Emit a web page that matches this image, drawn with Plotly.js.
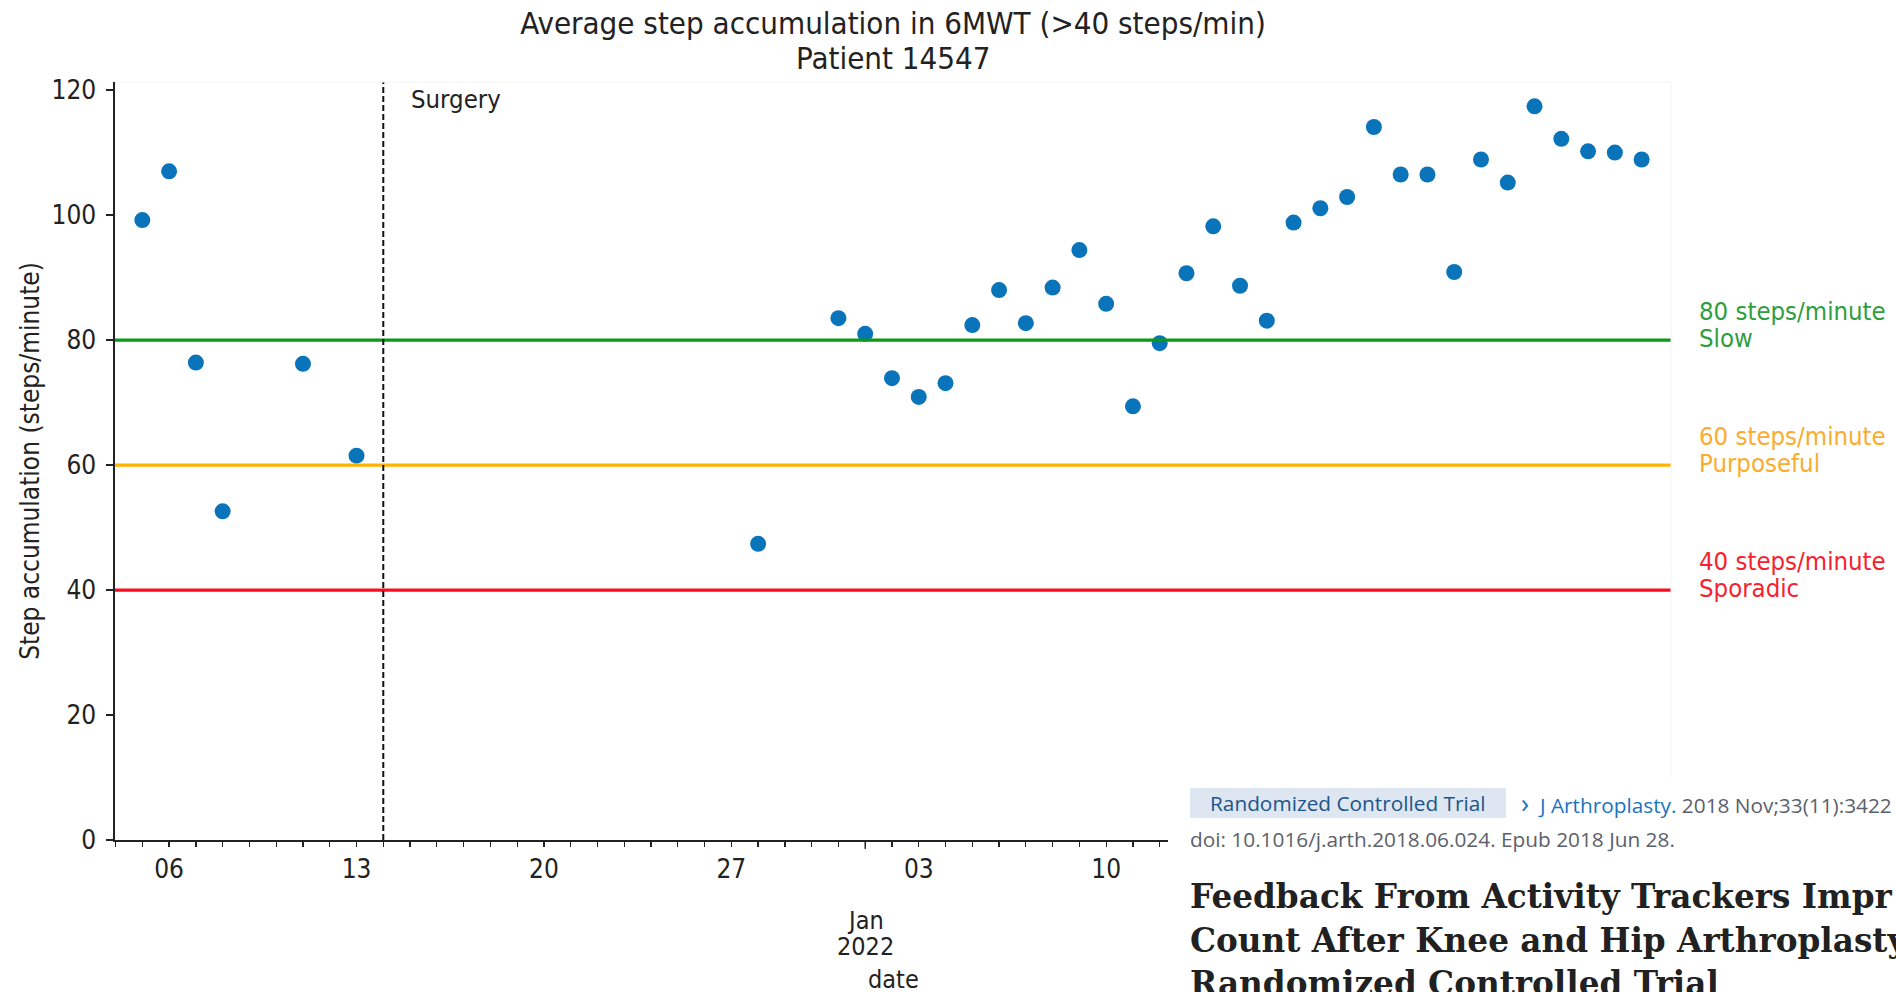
<!DOCTYPE html>
<html>
<head>
<meta charset="utf-8">
<script src="https://cdn.plot.ly/plotly-3.0.1.min.js"></script>
<style>html,body{margin:0;padding:0;background:#fff;}#chart{width:1896px;height:992px;}</style>
</head>
<body>
<div id="chart"></div>
<script>
// ---- data ----
const dates = ['2021-12-05','2021-12-06','2021-12-07','2021-12-08','2021-12-11','2021-12-13',
  '2021-12-28','2021-12-31','2022-01-01','2022-01-02','2022-01-03','2022-01-04','2022-01-05',
  '2022-01-06','2022-01-07','2022-01-08','2022-01-09','2022-01-10','2022-01-11','2022-01-12',
  '2022-01-13','2022-01-14','2022-01-15','2022-01-16','2022-01-17','2022-01-18','2022-01-19',
  '2022-01-20','2022-01-21','2022-01-22','2022-01-23','2022-01-24','2022-01-25','2022-01-26',
  '2022-01-27','2022-01-28','2022-01-29','2022-01-30'];
const steps = [99.2,107.0,76.4,52.6,76.2,61.5,
  47.4,83.5,81.0,73.9,70.9,73.1,82.4,
  88.0,82.7,88.4,94.4,85.8,69.4,79.5,
  90.7,98.2,88.7,83.1,98.8,101.1,102.9,
  114.1,106.5,106.5,90.9,108.9,105.2,117.4,
  112.2,110.2,110.0,108.9];
const surgeryDate = '2021-12-14';
const thresholds = [80, 60, 40];
const thresholdRates = ['80 steps/minute', '60 steps/minute', '40 steps/minute'];
const thresholdNames = ['Slow', 'Purposeful', 'Sporadic'];
const xTickVals = ['2021-12-06','2021-12-13','2021-12-20','2021-12-27','2022-01-03','2022-01-10'];
const xTickText = ['06','13','20','27','03','10'];
const yTickVals = [0,20,40,60,80,100,120];
const monthTickDate = '2022-01-01';
const monthTickLabel = ['Jan', '2022'];
const titleLines = ['Average step accumulation in 6MWT (&gt;40 steps/min)', 'Patient 14547'];

// ---- styles ----
const FONT = 'DejaVu Sans Condensed, DejaVu Sans, sans-serif';
const INK = '#222222';
const lineColors = ['#0a9a16', '#ffb300', '#fa0d22'];
const textColors = ['#2e9e3e', '#fbac2e', '#f5222f'];

const trace = {
  x: dates, y: steps, type: 'scatter', mode: 'markers',
  marker: {color: '#0a74ba', size: 16, line: {width: 0}},
  hoverinfo: 'x+y'
};

const px = v => (v - 115) / 1556;      // pixel x -> paper
const py = v => (840 - v) / 758;       // pixel y -> paper

const shapes = [];
thresholds.forEach((v, i) => {
  shapes.push({type: 'line', xref: 'paper', x0: 0, x1: 1, yref: 'y', y0: v, y1: v,
    line: {color: lineColors[i], width: 3.2}, layer: 'above'});
});
shapes.push({type: 'line', xref: 'x', x0: surgeryDate, x1: surgeryDate, yref: 'paper', y0: 0, y1: 1,
  line: {color: '#111', width: 2, dash: '6px,3px'}, layer: 'above'});
// faint top/right frame
shapes.push({type: 'line', xref: 'paper', x0: 0, x1: 1, yref: 'paper', y0: 1, y1: 1, line: {color: '#f2f2f2', width: 1}});
shapes.push({type: 'line', xref: 'paper', x0: 1, x1: 1, yref: 'paper', y0: 0, y1: 1, line: {color: '#f2f2f2', width: 1}});
// longer month tick
shapes.push({type: 'line', xref: 'x', x0: monthTickDate, x1: monthTickDate, yref: 'paper', y0: 0, y1: -0.012,
  line: {color: INK, width: 1.4}});
// pasted web overlay (white panel + badge)
shapes.push({type: 'rect', xref: 'paper', yref: 'paper',
  x0: px(1168), x1: px(1896), y0: py(992), y1: py(777),
  fillcolor: '#ffffff', line: {width: 0}, layer: 'above'});
shapes.push({type: 'rect', xref: 'paper', yref: 'paper',
  x0: px(1190), x1: px(1506), y0: py(818), y1: py(788),
  fillcolor: '#dde6f1', line: {width: 0}, layer: 'above'});

const annotations = [];
// second title line
annotations.push({xref: 'paper', x: 0.5, xanchor: 'center', yref: 'paper', y: py(58), yanchor: 'middle',
  text: titleLines[1], showarrow: false, font: {family: FONT, size: 31, color: INK}});
thresholds.forEach((v, i) => {
  annotations.push({xref: 'paper', x: px(1697), xanchor: 'left', yref: 'y', y: v + 4.6, yanchor: 'middle',
    text: thresholdRates[i], showarrow: false, align: 'left',
    font: {family: FONT, size: 25.5, color: textColors[i]}});
  annotations.push({xref: 'paper', x: px(1697), xanchor: 'left', yref: 'y', y: v + 0.3, yanchor: 'middle',
    text: thresholdNames[i], showarrow: false, align: 'left',
    font: {family: FONT, size: 25.5, color: textColors[i]}});
});
annotations.push({xref: 'x', x: surgeryDate, xshift: 26, xanchor: 'left', yref: 'paper', y: py(99), yanchor: 'middle',
  text: 'Surgery', showarrow: false, font: {family: FONT, size: 25.5, color: INK}});
annotations.push({xref: 'x', x: monthTickDate, xanchor: 'center', yref: 'paper', y: py(921), yanchor: 'middle',
  text: monthTickLabel[0], showarrow: false, font: {family: FONT, size: 25, color: INK}});
annotations.push({xref: 'x', x: monthTickDate, xanchor: 'center', yref: 'paper', y: py(946), yanchor: 'middle',
  text: monthTickLabel[1], showarrow: false, font: {family: FONT, size: 25, color: INK}});
annotations.push({xref: 'paper', x: 0.5, xanchor: 'center', yref: 'paper', y: py(979), yanchor: 'middle',
  text: 'date', showarrow: false, font: {family: FONT, size: 25, color: INK}});
// overlay texts
const WEB = 'Open Sans, Noto Sans, sans-serif';
annotations.push({xref: 'paper', x: px(1348), xanchor: 'center', yref: 'paper', y: py(803), yanchor: 'middle',
  text: 'Randomized Controlled Trial', showarrow: false, font: {family: WEB, size: 20.8, color: '#20558a'}});
annotations.push({xref: 'paper', x: px(1519), xanchor: 'left', yref: 'paper', y: py(802), yanchor: 'middle',
  text: '<span style="color:#1a73c0;font-size:27px">›</span><span style="color:#1a73c0">&nbsp; J Arthroplasty.</span> 2018 Nov;33(11):3422', showarrow: false,
  font: {family: WEB, size: 20.8, color: '#5b616b'}});
annotations.push({xref: 'paper', x: px(1188), xanchor: 'left', yref: 'paper', y: py(839), yanchor: 'middle',
  text: 'doi: 10.1016/j.arth.2018.06.024. Epub 2018 Jun 28.', showarrow: false,
  font: {family: WEB, size: 20.8, color: '#5b616b'}});
const SERIF = 'DejaVu Serif, Liberation Serif, serif';
[['Feedback From Activity Trackers Impr', 897], ['Count After Knee and Hip Arthroplasty', 940], ['Randomized Controlled Trial', 983]]
  .forEach(([t, y]) => annotations.push({xref: 'paper', x: px(1188), xanchor: 'left', yref: 'paper', y: py(y), yanchor: 'middle',
    text: '<b>' + t + '</b>', showarrow: false, font: {family: SERIF, size: 32.7, color: '#212121'}}));

const layout = {
  width: 1896, height: 992,
  margin: {l: 115, r: 225, t: 82, b: 152, pad: 0},
  paper_bgcolor: '#ffffff', plot_bgcolor: '#ffffff',
  showlegend: false,
  title: {text: titleLines[0],
    x: 0.5, xref: 'paper', xanchor: 'center', y: 1 - 23/992, yref: 'container', yanchor: 'middle',
    font: {family: FONT, size: 31, color: INK}},
  xaxis: {type: 'date', range: ['2021-12-03 23:30', '2022-01-31 02:20'],
    showgrid: false, zeroline: false, showline: true, linecolor: INK, linewidth: 1.6,
    ticks: 'outside', ticklen: 5, tickwidth: 1.3, tickcolor: INK,
    tickvals: xTickVals, ticktext: xTickText,
    tickfont: {family: FONT, size: 26, color: INK},
    minor: {dtick: 86400000, tick0: '2021-12-06', ticks: 'outside', ticklen: 5, tickwidth: 1.3, tickcolor: INK, showgrid: false}},
  yaxis: {range: [0, 121.3], showgrid: false, zeroline: false, showline: true, linecolor: INK, linewidth: 1.6,
    ticks: 'outside', ticklen: 7, tickwidth: 1.3, tickcolor: INK, ticklabelstandoff: 5,
    tickvals: yTickVals, tickfont: {family: FONT, size: 26, color: INK},
    title: {text: 'Step accumulation (steps/minute)', font: {family: FONT, size: 26, color: INK}, standoff: 4}},
  shapes: shapes,
  annotations: annotations
};

Plotly.newPlot('chart', [trace], layout, {displayModeBar: false, staticPlot: true});
</script>
</body>
</html>
